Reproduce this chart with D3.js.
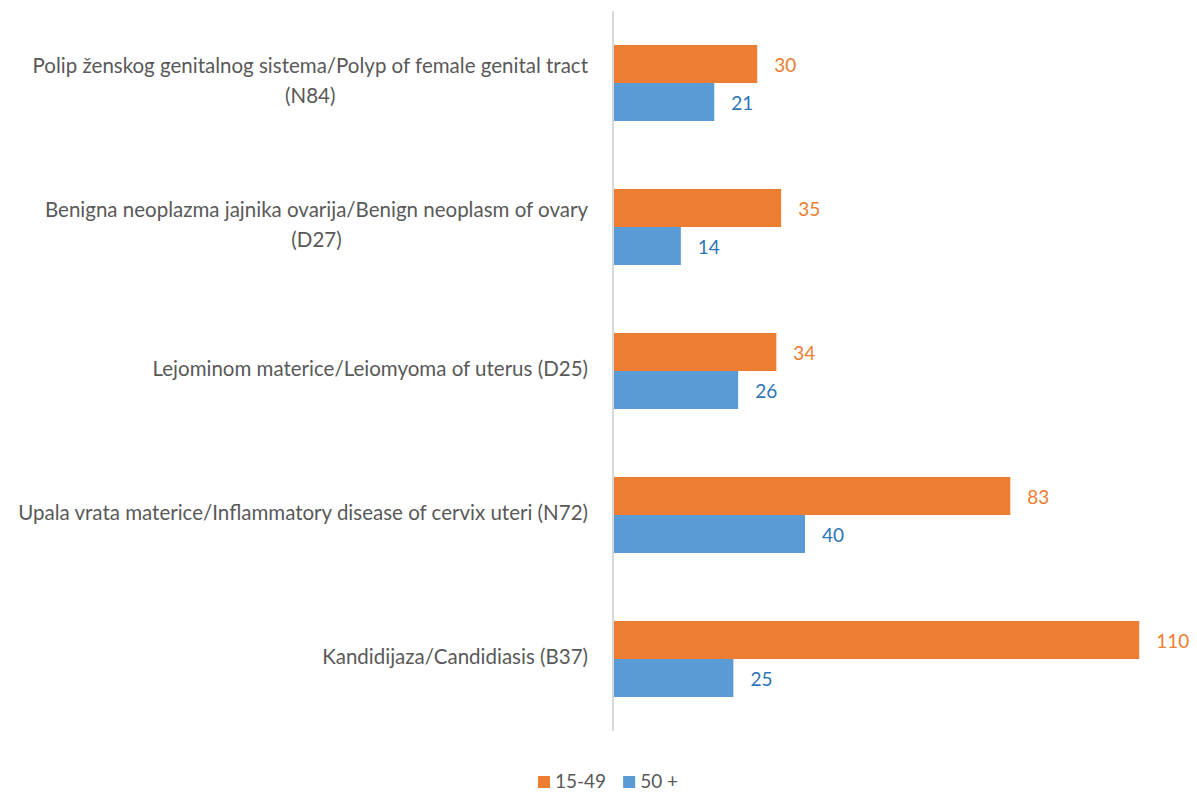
<!DOCTYPE html>
<html>
<head>
<meta charset="utf-8">
<script src="https://cdn.jsdelivr.net/npm/d3@7"></script>
<style>
  body { margin: 0; background: #fff; }
  text { font-family: Lato, "Open Sans", sans-serif; }
</style>
</head>
<body>
<svg id="chart"></svg>
<script>
// categories, top to bottom (line breaks as in the picture)
const categories = [
  ["Polip ženskog genitalnog sistema/Polyp of female genital tract", "(N84)"],
  ["Benigna neoplazma jajnika ovarija/Benign neoplasm of ovary", "(D27)"],
  ["Lejominom materice/Leiomyoma of uterus (D25)"],
  ["Upala vrata materice/Inflammatory disease of cervix uteri (N72)"],
  ["Kandidijaza/Candidiasis (B37)"]
];
const seriesNames = ["15-49", "50 +"];
const values1549 = [30, 35, 34, 83, 110];
const values50 = [21, 14, 26, 40, 25];

const barColors = ["#ED7D31", "#5B9BD5"];
const labelColors = ["#ED7D31", "#2E75B6"];

let width = 1197, height = 792;
var margin = {top: 11, right: 10, bottom: 61, left: 614};

let svg = d3.select("#chart")
    .attr("width", width)
    .attr("height", height);

// build rows
let rows = categories.map((c, i) => ({
    key: i,
    lines: c,
    vals: [values1549[i], values50[i]]
}));

// category bands
const yScale = d3.scaleBand()
    .domain(rows.map(d => d.key))
    .range([margin.top, height - margin.bottom])
    .paddingInner(0.472)
    .paddingOuter(0.236);

// series inside each band
const ySub = d3.scaleBand()
    .domain([0, 1])
    .range([0, yScale.bandwidth()]);

const xScale = d3.scaleLinear()
    .domain([0, 120])
    .range([margin.left, 1187]);

// bars
let groups = svg.selectAll(".grp")
    .data(rows)
    .enter()
    .append("g")
    .attr("transform", d => "translate(0," + yScale(d.key) + ")");

groups.selectAll("rect")
    .data(d => d.vals.map((v, s) => ({v: v, s: s})))
    .enter()
    .append("rect")
        .attr("x", xScale(0))
        .attr("y", d => ySub(d.s))
        .attr("width", d => xScale(d.v) - xScale(0))
        .attr("height", ySub.bandwidth())
        .style("fill", d => barColors[d.s]);

// value labels
groups.selectAll(".val")
    .data(d => d.vals.map((v, s) => ({v: v, s: s})))
    .enter()
    .append("text")
        .attr("x", d => xScale(d.v) + 17)
        .attr("y", d => ySub(d.s) + ySub.bandwidth() / 2 + 1)
        .attr("dominant-baseline", "central")
        .style("font-size", "19px")
        .style("fill", d => labelColors[d.s])
        .text(d => d.v);

// vertical axis line
svg.append("line")
    .attr("x1", xScale(0) - 1).attr("x2", xScale(0) - 1)
    .attr("y1", margin.top).attr("y2", height - margin.bottom)
    .attr("stroke", "#d9d9d9")
    .attr("stroke-width", 2);

// category labels: block right-aligned, lines centered within block
const labelRight = 588, lineH = 30;
rows.forEach(d => {
    let cy = yScale(d.key) + yScale.bandwidth() / 2;
    let t = svg.append("text")
        .style("font-size", "20.5px")
        .style("fill", "#595959")
        .attr("text-anchor", "middle");
    let spans = d.lines.map((ln, j) => t.append("tspan")
        .attr("y", cy + (j - (d.lines.length - 1) / 2) * lineH - 3)
        .attr("dominant-baseline", "central")
        .text(ln));
    let w = d3.max(spans, s => s.node().getComputedTextLength());
    spans.forEach(s => s.attr("x", labelRight - w / 2));
});

// legend
let legend = svg.append("g");
let lx = 538;
seriesNames.forEach((name, i) => {
    legend.append("rect")
        .attr("x", lx).attr("y", 776)
        .attr("width", 12).attr("height", 12)
        .style("fill", barColors[i]);
    let t = legend.append("text")
        .attr("x", lx + 17).attr("y", 780)
        .attr("dominant-baseline", "central")
        .style("font-size", "19px")
        .style("fill", "#595959")
        .text(name);
    lx += 17 + t.node().getComputedTextLength() + 17;
});
</script>
</body>
</html>
